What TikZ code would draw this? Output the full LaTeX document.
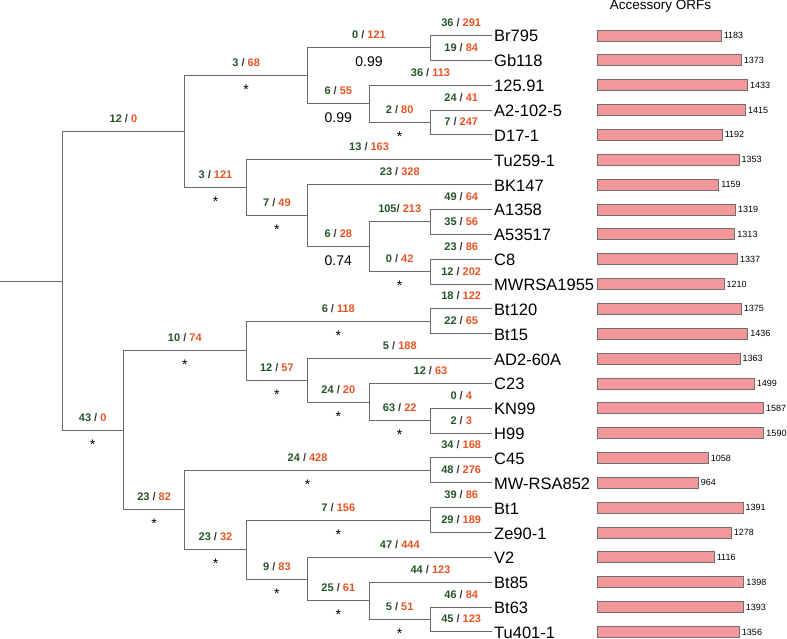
\documentclass[tikz,border=0pt]{standalone}
\usepackage{fontspec}
\setmainfont{Liberation Sans}
\usetikzlibrary{positioning}

\definecolor{ggreen}{RGB}{35,85,40}
\definecolor{rred}{RGB}{232,83,35}
\definecolor{slashgray}{RGB}{55,60,55}
\definecolor{linegray}{RGB}{105,105,105}
\definecolor{barpink}{RGB}{242,152,154}
\definecolor{bargray}{RGB}{115,110,110}

\newcommand{\brl}[2]{\textcolor{ggreen}{#1} \textcolor{slashgray}{/} \textcolor{rred}{#2}}

\tikzset{
  branch/.style={draw=linegray, line width=1pt},
  brlabel/.style={anchor=base, yshift=9pt, inner sep=0pt, font=\fontsize{11}{12}\selectfont\bfseries},
  support/.style={anchor=base, yshift=-19pt, inner sep=0pt, font=\fontsize{14}{15}\selectfont},
  leafname/.style={anchor=base west, xshift=2pt, yshift=-6.5pt, inner sep=0pt, font=\fontsize{16.5}{18}\selectfont},
  orfbar/.style={draw=bargray, fill=barpink, line width=0.8pt, minimum height=11pt, inner sep=0pt, anchor=west},
  barnum/.style={inner sep=0pt, font=\fontsize{9}{10}\selectfont}
}

\begin{document}
\begin{tikzpicture}[x=1pt, y=-1pt]
  \useasboundingbox (0,0) rectangle (787,639);

  % Internal nodes (level, row)
  \foreach \n/\k/\iy in {R/1/9.8828, A/3/3.875, A1/5/1.625, A11/7/0.5, A12/6/2.75, A121/7/3.5,
      A2/4/6.125, A21/5/7.25, A211/6/8.5, A2111/7/7.5, A2112/7/9.5,
      B/2/15.890625, B1/4/12.6875, B11/7/11.5, B12/5/13.875, B121/6/14.75, B1211/7/15.5,
      B2/3/19.09375, B21/7/17.5, B22/4/20.6875, B221/7/19.5, B222/5/21.875, B2221/6/22.75, B22211/7/23.5} {
    \coordinate (\n) at ({62+61.4*(\k-1)}, {35.5+24.85*\iy});
  }

  % Leaves
  \foreach \i/\name in {0/Br795, 1/Gb118, 2/125.91, 3/A2-102-5, 4/D17-1, 5/Tu259-1, 6/BK147,
      7/A1358, 8/A53517, 9/C8, 10/MWRSA1955, 11/Bt120, 12/Bt15, 13/AD2-60A, 14/C23, 15/KN99,
      16/H99, 17/C45, 18/MW-RSA852, 19/Bt1, 20/Ze90-1, 21/V2, 22/Bt85, 23/Bt63, 24/Tu401-1} {
    \coordinate (L\i) at (492, {35.5+24.85*\i});
    \node[leafname] (N\i) at (L\i) {\name};
  }

  % Root stub
  \coordinate (stub) at (0, {35.5+24.85*9.8828});
  \draw[branch] (stub) -- (R);

  % Branches with gain / loss counts and support
  \foreach \p/\c/\g/\r/\s in {R/A/12/0/{}, R/B/43/0/*,
      A/A1/3/68/*, A/A2/3/121/*, A1/A11/0/121/0.99, A1/A12/6/55/0.99,
      A11/L0/36/291/{}, A11/L1/19/84/{}, A12/L2/36/113/{}, A12/A121/2/80/*,
      A121/L3/24/41/{}, A121/L4/7/247/{}, A2/L5/13/163/{}, A2/A21/7/49/*,
      A21/L6/23/328/{}, A21/A211/6/28/0.74, A211/A2111/{105\kern-3pt}/213/{}, A211/A2112/0/42/*,
      A2111/L7/49/64/{}, A2111/L8/35/56/{}, A2112/L9/23/86/{}, A2112/L10/12/202/{},
      B/B1/10/74/*, B/B2/23/82/*, B1/B11/6/118/*, B1/B12/12/57/*,
      B11/L11/18/122/{}, B11/L12/22/65/{}, B12/L13/5/188/{}, B12/B121/24/20/*,
      B121/L14/12/63/{}, B121/B1211/63/22/*, B1211/L15/0/4/{}, B1211/L16/2/3/{},
      B2/B21/24/428/*, B2/B22/23/32/*, B21/L17/34/168/{}, B21/L18/48/276/{},
      B22/B221/7/156/*, B22/B222/9/83/*, B221/L19/39/86/{}, B221/L20/29/189/{},
      B222/L21/47/444/{}, B222/B2221/25/61/*, B2221/L22/44/123/{}, B2221/B22211/5/51/*,
      B22211/L23/46/84/{}, B22211/L24/45/123/{}} {
    \draw[branch] (\p) |- (\c)
      node[brlabel, pos=0.75] (lab\c) {\brl{\g}{\r}}
      node[support, pos=0.75] (sup\c) {\s};
  }

  % Accessory ORF bars
  \node[anchor=base, font=\fontsize{13.5}{15}\selectfont] (title) at (660.5, 9.3) {Accessory ORFs};
  \foreach \i/\v in {0/1183, 1/1373, 2/1433, 3/1415, 4/1192, 5/1353, 6/1159, 7/1319, 8/1313,
      9/1337, 10/1210, 11/1375, 12/1436, 13/1363, 14/1499, 15/1587, 16/1590, 17/1058, 18/964,
      19/1391, 20/1278, 21/1116, 22/1398, 23/1393, 24/1356} {
    \node[orfbar, minimum width={0.1047pt*\v}] (B\i) at (597, {35.5+24.85*\i}) {};
    \node[barnum, right=2pt of B\i] (V\i) {\v};
  }

\end{tikzpicture}
\end{document}
